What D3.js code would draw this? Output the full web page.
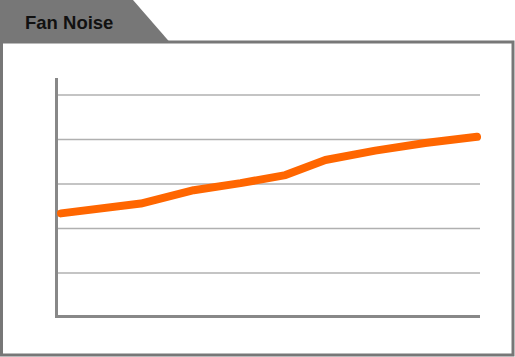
<!DOCTYPE html>
<html><head><meta charset="utf-8">
<script src="https://cdn.jsdelivr.net/npm/d3@7"></script>
<style>html,body{margin:0;padding:0;background:#fff;}svg{display:block;}</style>
</head><body>
<svg id="chart" width="515" height="357"></svg>
<script>
const title = "Fan Noise";
// x positions (relative units) and noise level (grid units)
const xValues = [0, 80, 133, 180, 225, 265, 315, 365, 417];
const noise = [2.34, 2.56, 2.86, 3.02, 3.20, 3.54, 3.75, 3.92, 4.06];
const gridTicks = [1, 2, 3, 4, 5];

const svg = d3.select("#chart");
const x = d3.scaleLinear().domain([0, 417]).range([61, 477]);
const y = d3.scaleLinear().domain([0, 5]).range([317.5, 95]);

// panel border
svg.append("rect").attr("x", 1.5).attr("y", 42).attr("width", 511.5).attr("height", 313)
  .attr("fill", "#fff").attr("stroke", "#777").attr("stroke-width", 3);
// tab
svg.append("path").attr("d", "M0,0 L133,0 L170,42.5 L0,42.5 Z").attr("fill", "#777");
svg.append("text").attr("x", 25).attr("y", 29)
  .attr("font-family", "Liberation Sans, Arial, sans-serif").attr("font-weight", "bold")
  .attr("font-size", 18.5).attr("fill", "#111").text(title);

// gridlines
svg.append("g").selectAll("line").data(gridTicks).join("line")
  .attr("x1", 57).attr("x2", 480)
  .attr("y1", d => y(d)).attr("y2", d => y(d))
  .attr("stroke", "#b0b0b0").attr("stroke-width", 1.7);

// axes
svg.append("line").attr("x1", 56.5).attr("x2", 56.5).attr("y1", 78).attr("y2", 318)
  .attr("stroke", "#888").attr("stroke-width", 3);
svg.append("line").attr("x1", 55).attr("x2", 480).attr("y1", y(0) - 1).attr("y2", y(0) - 1)
  .attr("stroke", "#888").attr("stroke-width", 3);

// line
const line = d3.line().x((d, i) => x(xValues[i])).y(d => y(d));
svg.append("path").datum(noise).attr("d", line)
  .attr("fill", "none").attr("stroke", "#ff6600").attr("stroke-width", 8)
  .attr("stroke-linecap", "round").attr("stroke-linejoin", "round");
</script>
</body></html>
